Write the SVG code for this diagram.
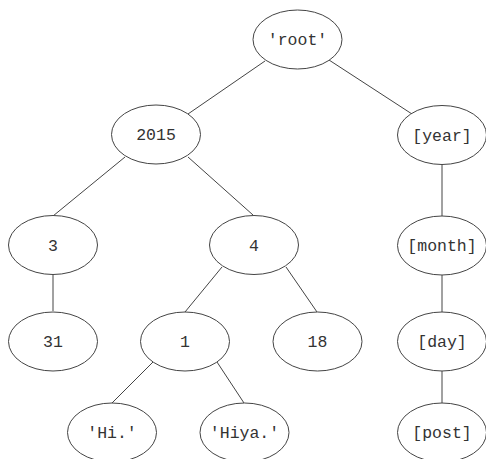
<svg xmlns="http://www.w3.org/2000/svg" width="486" height="459" viewBox="0 0 486 459">
<style>
.n ellipse{fill:#fff;stroke:#444;stroke-width:1}
.n text{font-family:"Liberation Mono","Courier New",monospace;font-size:16.5px;fill:#333;text-anchor:middle}
.e line{stroke:#444;stroke-width:1}
</style>
<rect width="486" height="459" fill="#fff"/>
<g class="e" id="edges">
<line x1="265" y1="61" x2="188" y2="114"/>
<line x1="329" y1="60" x2="412" y2="114"/>
<line x1="125" y1="157" x2="53" y2="216"/>
<line x1="188" y1="157" x2="253" y2="215"/>
<line x1="53" y1="275" x2="53" y2="311"/>
<line x1="222" y1="267" x2="185" y2="312"/>
<line x1="286" y1="267" x2="317" y2="312"/>
<line x1="153" y1="362" x2="112" y2="403"/>
<line x1="217" y1="362" x2="244" y2="403"/>
<line x1="442" y1="164" x2="442" y2="216"/>
<line x1="442" y1="275" x2="442" y2="312"/>
<line x1="442" y1="371" x2="442" y2="403"/>
</g>
<g class="n" id="root"><ellipse cx="297.5" cy="39.5" rx="44.5" ry="29.5"/><text x="297.5" y="45">'root'</text></g>
<g class="n" id="n2015"><ellipse cx="156" cy="134.5" rx="44.5" ry="29.5"/><text x="156" y="140">2015</text></g>
<g class="n" id="year"><ellipse cx="442" cy="135" rx="44.5" ry="29.5"/><text x="442" y="140.5">[year]</text></g>
<g class="n" id="n3"><ellipse cx="53" cy="245" rx="44.5" ry="29.5"/><text x="53" y="250.5">3</text></g>
<g class="n" id="n4"><ellipse cx="254" cy="245" rx="44.5" ry="29.5"/><text x="254" y="250.5">4</text></g>
<g class="n" id="month"><ellipse cx="442" cy="245.5" rx="44.5" ry="29.5"/><text x="442" y="251">[month]</text></g>
<g class="n" id="n31"><ellipse cx="53" cy="341.5" rx="44.5" ry="29.5"/><text x="53" y="347">31</text></g>
<g class="n" id="n1"><ellipse cx="185" cy="341.5" rx="44.5" ry="29.5"/><text x="185" y="347">1</text></g>
<g class="n" id="n18"><ellipse cx="317.5" cy="341.5" rx="44.5" ry="29.5"/><text x="317.5" y="347">18</text></g>
<g class="n" id="day"><ellipse cx="442" cy="341.5" rx="44.5" ry="29.5"/><text x="442" y="347">[day]</text></g>
<g class="n" id="hi"><ellipse cx="112" cy="432.5" rx="44.5" ry="29.5"/><text x="112" y="438">'Hi.'</text></g>
<g class="n" id="hiya"><ellipse cx="244.5" cy="432.5" rx="44.5" ry="29.5"/><text x="244.5" y="438">'Hiya.'</text></g>
<g class="n" id="post"><ellipse cx="442" cy="432.5" rx="44.5" ry="29.5"/><text x="442" y="438">[post]</text></g>
</svg>
